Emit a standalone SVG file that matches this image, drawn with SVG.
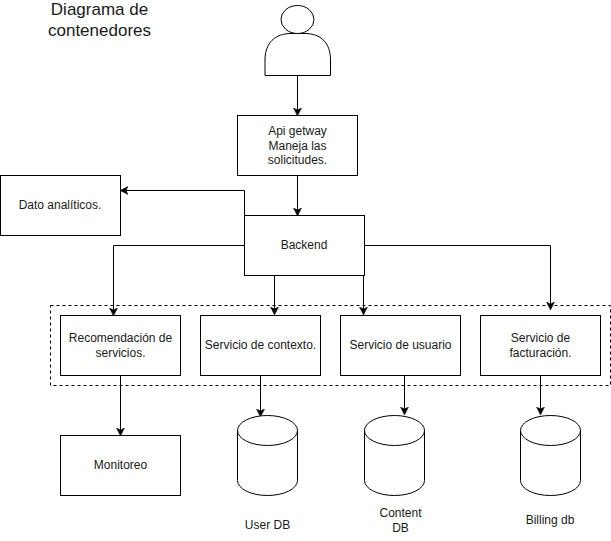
<svg xmlns="http://www.w3.org/2000/svg" width="611" height="541" viewBox="0 0 611 541">
<defs>
<marker id="arrow" markerUnits="userSpaceOnUse" markerWidth="9" markerHeight="9" refX="7" refY="4" orient="auto">
<path d="M0,0 L8,4 L0,8 L2,4 Z" fill="#000" stroke="#000" stroke-width="0.5"/>
</marker>
</defs>
<style>
.s{fill:#fff;stroke:#000;stroke-width:1}
.c{fill:none;stroke:#000;stroke-width:1;marker-end:url(#arrow)}
text{font-family:"Liberation Sans",Arial,sans-serif;font-size:12px;fill:#1a1a1a;text-anchor:middle}
.t{font-size:17px}
</style>
<rect width="611" height="541" fill="#fff"/>
<g id="title"><text class="t" x="99.500" y="15">Diagrama de</text><text class="t" x="99.500" y="36">contenedores</text></g>
<g id="boundary"><rect x="50.500" y="305.500" width="560" height="80" fill="none" stroke="#000" stroke-dasharray="3 3"/></g>
<g id="connectors">
<path class="c" d="M297.500,75.500V115"/>
<path class="c" d="M297.500,175.500V215"/>
<path class="c" d="M244.500,215.500V190.500H121"/>
<path class="c" d="M244.500,245.500H113.500V315"/>
<path class="c" d="M274.500,275.500V314"/>
<path class="c" d="M363.500,275.500V314"/>
<path class="c" d="M364.500,245.500H550.500V309"/>
<path class="c" d="M120.500,375.500V435"/>
<path class="c" d="M260.500,375.500V416"/>
<path class="c" d="M404.500,375.500V414"/>
<path class="c" d="M540.500,375.500V414"/>
</g>
<g id="user"><path class="s" d="M265,75.500V60C265,43 275,33.500 291,33.500H305C321,33.500 330.500,43 330.500,60V75.500Z"/><ellipse class="s" cx="297.500" cy="19.500" rx="16.500" ry="14"/></g>
<g id="api"><rect class="s" x="237.500" y="115.500" width="120" height="60"/><text x="297.500" y="135">Api getway</text><text x="297.500" y="149.500">Maneja las</text><text x="297.500" y="164">solicitudes.</text></g>
<g id="analytics"><rect class="s" x="0.500" y="175.500" width="120" height="60"/><text x="60" y="209">Dato analíticos.</text></g>
<g id="backend"><rect class="s" x="244.500" y="215.500" width="120" height="60"/><text x="304" y="249">Backend</text></g>
<g id="rec"><rect class="s" x="60.500" y="315.500" width="120" height="60"/><text x="120.500" y="342">Recomendación de</text><text x="120.500" y="357">servicios.</text></g>
<g id="ctx"><rect class="s" x="200.500" y="315.500" width="120" height="60"/><text x="260.500" y="349">Servicio de contexto.</text></g>
<g id="usr"><rect class="s" x="340.500" y="315.500" width="120" height="60"/><text x="400.500" y="349">Servicio de usuario</text></g>
<g id="bill"><rect class="s" x="480.500" y="315.500" width="120" height="60"/><text x="540.500" y="342">Servicio de</text><text x="540.500" y="357">facturación.</text></g>
<g id="monitor"><rect class="s" x="60.500" y="435.500" width="120" height="60"/><text x="120.500" y="469">Monitoreo</text></g>
<g id="userdb"><path class="s" d="M237.500,430.500V480.500A30,15 0 0 0 297.500,480.500V430.500A30,15 0 0 0 237.500,430.500A30,15 0 0 0 297.500,430.500"/><text x="267.500" y="529">User DB</text></g>
<g id="contentdb"><path class="s" d="M364.500,430.500V480.500A30,15 0 0 0 424.500,480.500V430.500A30,15 0 0 0 364.500,430.500A30,15 0 0 0 424.500,430.500"/><text x="400.500" y="517">Content</text><text x="400.500" y="532">DB</text></g>
<g id="billingdb"><path class="s" d="M520.500,430.500V480.500A30,15 0 0 0 580.500,480.500V430.500A30,15 0 0 0 520.500,430.500A30,15 0 0 0 580.500,430.500"/><text x="550" y="524">Billing db</text></g>
</svg>
